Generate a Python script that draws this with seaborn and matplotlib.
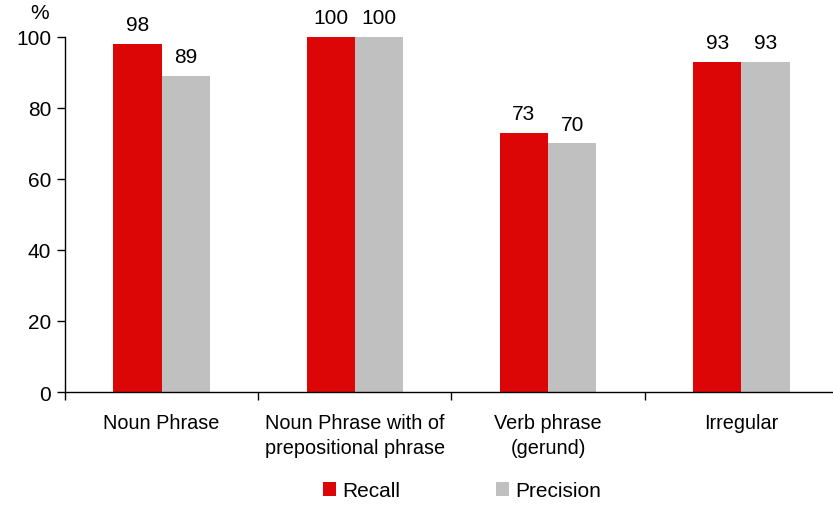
import pandas as pd
import matplotlib.pyplot as plt
import seaborn as sns

# Data
categories = ['Noun Phrase', 'Noun Phrase with of\nprepositional phrase',
              'Verb phrase\n(gerund)', 'Irregular']
recall = [98, 100, 73, 93]
precision = [89, 100, 70, 93]

df = pd.DataFrame({
    'category': categories * 2,
    'metric': ['Recall'] * 4 + ['Precision'] * 4,
    'value': recall + precision,
})

sns.set_style('white')
plt.rcParams['font.family'] = ['Liberation Sans', 'DejaVu Sans']
plt.rcParams['text.color'] = 'black'
plt.rcParams['xtick.color'] = 'black'
plt.rcParams['ytick.color'] = 'black'

fig = plt.figure(figsize=(8.33, 5.06), dpi=100)
ax = fig.add_axes([0.078, 0.2233, 0.928, 0.7017])

palette = {'Recall': '#DD0606', 'Precision': '#C0C0C0'}
sns.barplot(data=df, x='category', y='value', hue='metric', palette=palette,
            width=0.5, saturation=1, linewidth=0, ax=ax, legend=True)

for cont in ax.containers:
    ax.bar_label(cont, fmt='%d', padding=7, fontsize=15, color='black')

ax.set_xlim(-0.5, 3.5)
ax.set_ylim(0, 100)
ax.set_yticks([0, 20, 40, 60, 80, 100])
ax.set_xlabel('')
ax.set_ylabel('')

# category ticks sit between groups
ax.set_xticks([-0.5, 0.5, 1.5, 2.5, 3.5])
ax.set_xticklabels([])
ax.set_xticks([0, 1, 2, 3], minor=True)
ax.set_xticklabels(categories, minor=True, fontsize=14.3, linespacing=1.4)
ax.tick_params(axis='x', which='minor', length=0, pad=15)
ax.tick_params(axis='x', which='major', direction='out', length=6, width=1, color='black', bottom=True)
ax.tick_params(axis='y', direction='out', length=6, width=1, color='black', labelsize=15, left=True, pad=4)

for s in ['top', 'right']:
    ax.spines[s].set_visible(False)
for s in ['left', 'bottom']:
    ax.spines[s].set_color('black')
    ax.spines[s].set_linewidth(1)

fig.text(0.047, 0.973, '%', fontsize=15, ha='center', va='center')

handles, labels = ax.get_legend_handles_labels()
ax.get_legend().remove()
fig.legend(handles, labels, loc='center', bbox_to_anchor=(0.5548, 0.028),
           ncol=2, frameon=False, fontsize=15, handlelength=0.63, handleheight=0.68,
           handletextpad=0.29, columnspacing=4.6)

fig.savefig('out.png', dpi=100)
